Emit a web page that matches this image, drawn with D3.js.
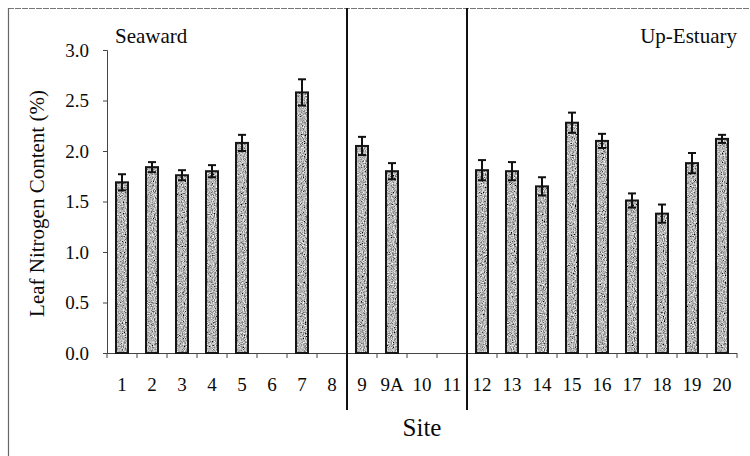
<!DOCTYPE html>
<html>
<head>
<meta charset="utf-8">
<script src="https://cdn.jsdelivr.net/npm/d3@7"></script>
<style>
  html, body { margin: 0; padding: 0; background: #fff; }
  svg { display: block; }
  text { font-family: "Liberation Serif", "Times New Roman", serif; fill: #0a0a0a; }
</style>
</head>
<body>
<svg id="chart" width="750" height="456"></svg>
<script>
// ---- data ----
const sites = ["1","2","3","4","5","6","7","8","9","9A","10","11","12","13","14","15","16","17","18","19","20"];
const nitrogen = [1.69, 1.84, 1.76, 1.80, 2.08, null, 2.58, null, 2.05, 1.80, null, null, 1.81, 1.80, 1.65, 2.28, 2.10, 1.51, 1.38, 1.88, 2.12];
const errors   = [0.08, 0.05, 0.05, 0.06, 0.08, null, 0.13, null, 0.09, 0.08, null, null, 0.10, 0.09, 0.09, 0.10, 0.07, 0.07, 0.09, 0.10, 0.04];
const yTicks = [0, 0.5, 1.0, 1.5, 2.0, 2.5, 3.0];
const groupBreaks = ["9", "12"];   // dividers drawn before these sites
const regionLabels = ["Seaward", "Up-Estuary"];
const yTitle = "Leaf Nitrogen Content (%)";
const xTitle = "Site";

// ---- layout ----
const svg = d3.select("#chart");
const pLeft = 107, pRight = 737, pTop = 50, pBottom = 353;

const x = d3.scaleBand().domain(sites).range([pLeft, pRight]).paddingInner(0.6).paddingOuter(0.3);
const y = d3.scaleLinear().domain([0, 3]).range([pBottom, pTop]);
const step = x.step();
const bandStart = d => x(d) - step * 0.3;   // left boundary of category slot

// speckled grey texture for the bars
const defs = svg.append("defs");
const f = defs.append("filter").attr("id", "speckle").attr("x", 0).attr("y", 0).attr("width", 1).attr("height", 1);
f.append("feTurbulence").attr("type", "fractalNoise").attr("baseFrequency", 0.9).attr("numOctaves", 2).attr("seed", 4).attr("result", "noise");
f.append("feColorMatrix").attr("in", "noise").attr("type", "matrix")
  .attr("values", "1.6 0 0 0 -0.33  1.6 0 0 0 -0.33  1.6 0 0 0 -0.33  0 0 0 0 1").attr("result", "grey");
f.append("feComposite").attr("in", "grey").attr("in2", "SourceGraphic").attr("operator", "in");

// outer frame (top and left edges)
svg.append("line").attr("x1", 8).attr("x2", 750).attr("y1", 8.5).attr("y2", 8.5)
  .attr("stroke", "#777").attr("stroke-width", 1.2).attr("stroke-dasharray", "6,1");
svg.append("line").attr("x1", 8.5).attr("x2", 8.5).attr("y1", 8).attr("y2", 456)
  .attr("stroke", "#666").attr("stroke-width", 1.2);

// y axis
const yAxis = svg.append("g").attr("transform", `translate(${pLeft},0)`)
  .call(d3.axisLeft(y).tickValues(yTicks).tickFormat(d3.format(".1f")).tickSize(4).tickPadding(14));
yAxis.select(".domain").attr("stroke", "#444");
yAxis.selectAll(".tick line").attr("stroke", "#444");
yAxis.selectAll("text").style("font-size", "19px").attr("fill", "#0a0a0a");

// x axis (labels)
const xAxis = svg.append("g").attr("transform", `translate(0,${pBottom})`)
  .call(d3.axisBottom(x).tickSize(0).tickPadding(25));
xAxis.select(".domain").attr("stroke", "#444").attr("d", `M${pLeft},0.5H${pRight}`);
xAxis.selectAll("text").style("font-size", "19px").attr("fill", "#0a0a0a");

// x boundary ticks
const bounds = sites.map(bandStart).concat([pRight]);
svg.append("g").selectAll("line").data(bounds).join("line")
  .attr("x1", d => d).attr("x2", d => d)
  .attr("y1", pBottom).attr("y2", pBottom + 5)
  .attr("stroke", "#444").attr("stroke-width", 1);

// bars
const data = sites.map((s, i) => ({ site: s, v: nitrogen[i], e: errors[i] })).filter(d => d.v != null);

svg.append("g").selectAll("rect").data(data).join("rect")
  .attr("x", d => x(d.site))
  .attr("y", d => y(d.v))
  .attr("width", x.bandwidth())
  .attr("height", d => y(0) - y(d.v))
  .attr("fill", "#808080")
  .attr("filter", "url(#speckle)");
svg.append("g").selectAll("rect").data(data).join("rect")
  .attr("x", d => x(d.site))
  .attr("y", d => y(d.v))
  .attr("width", x.bandwidth())
  .attr("height", d => y(0) - y(d.v))
  .attr("fill", "none")
  .attr("stroke", "#151515")
  .attr("stroke-width", 2);

// error bars
const eb = svg.append("g").attr("stroke", "#111").attr("stroke-width", 2);
const cx = d => x(d.site) + x.bandwidth() / 2;
eb.selectAll("line.v").data(data).join("line").attr("class", "v")
  .attr("x1", cx).attr("x2", cx)
  .attr("y1", d => y(d.v + d.e)).attr("y2", d => y(d.v - d.e));
eb.selectAll("line.t").data(data).join("line").attr("class", "t")
  .attr("x1", d => cx(d) - 4).attr("x2", d => cx(d) + 4)
  .attr("y1", d => y(d.v + d.e)).attr("y2", d => y(d.v + d.e));
eb.selectAll("line.b").data(data).join("line").attr("class", "b")
  .attr("x1", d => cx(d) - 4).attr("x2", d => cx(d) + 4)
  .attr("y1", d => y(d.v - d.e)).attr("y2", d => y(d.v - d.e));

// group dividers
svg.append("g").selectAll("line").data(groupBreaks).join("line")
  .attr("x1", d => bandStart(d)).attr("x2", d => bandStart(d))
  .attr("y1", 8).attr("y2", 410)
  .attr("stroke", "#111").attr("stroke-width", 2);

// region labels
svg.append("text").attr("x", pLeft + 8).attr("y", 43).style("font-size", "21px").text(regionLabels[0]);
svg.append("text").attr("x", pRight).attr("y", 43).attr("text-anchor", "end").style("font-size", "21px").text(regionLabels[1]);

// axis titles
svg.append("text").attr("transform", `translate(44,${(pTop + pBottom) / 2 + 2}) rotate(-90)`)
  .attr("text-anchor", "middle").style("font-size", "21px").text(yTitle);
svg.append("text").attr("x", 422).attr("y", 436).attr("text-anchor", "middle")
  .style("font-size", "25px").text(xTitle);
</script>
</body>
</html>
